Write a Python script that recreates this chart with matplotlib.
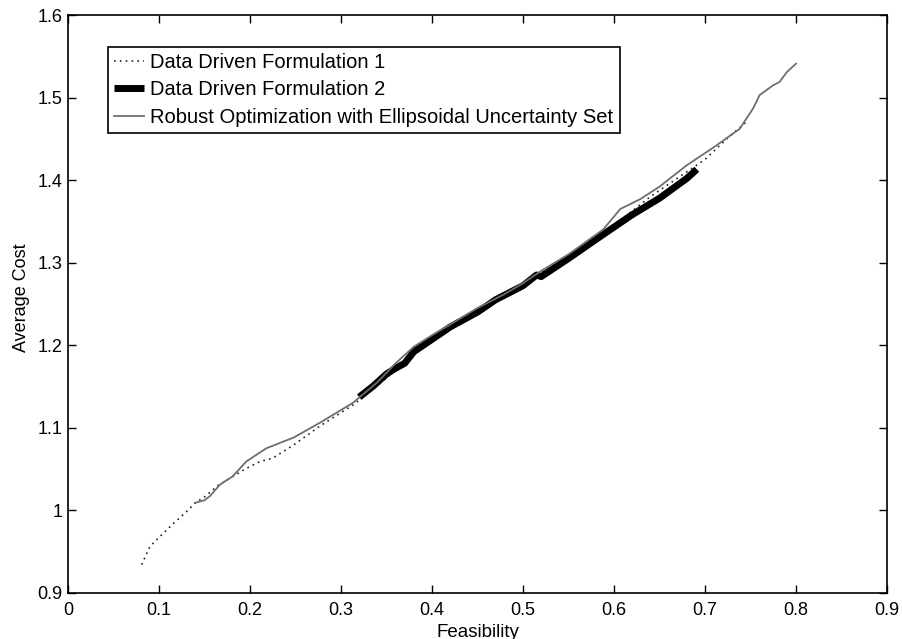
import matplotlib
matplotlib.use("Agg")
import matplotlib.pyplot as plt

plt.rcParams["font.family"] = ["Liberation Sans", "DejaVu Sans"]

# Data Driven Formulation 1 (dotted)
ddf1_x = [0.081, 0.09, 0.101, 0.116, 0.13, 0.14, 0.15, 0.165, 0.18, 0.195, 0.211, 0.225,
          0.248, 0.277, 0.314, 0.35, 0.38, 0.40, 0.43, 0.46, 0.5, 0.53, 0.56, 0.6,
          0.64, 0.68, 0.70, 0.724, 0.747]
ddf1_y = [0.934, 0.956, 0.968, 0.984, 0.998, 1.009, 1.016, 1.030, 1.040, 1.050, 1.059, 1.063,
          1.079, 1.102, 1.128, 1.160, 1.190, 1.208, 1.228, 1.250, 1.275, 1.295, 1.315, 1.345,
          1.380, 1.410, 1.425, 1.450, 1.472]

# Data Driven Formulation 2 (thick)
ddf2_x = [0.32, 0.335, 0.35, 0.36, 0.37, 0.38, 0.40, 0.42, 0.43, 0.45, 0.47, 0.50,
          0.515, 0.52, 0.55, 0.592, 0.62, 0.65, 0.68, 0.691]
ddf2_y = [1.137, 1.150, 1.165, 1.172, 1.178, 1.192, 1.207, 1.222, 1.228, 1.240, 1.255, 1.272,
          1.285, 1.283, 1.305, 1.337, 1.358, 1.378, 1.402, 1.413]

# Robust Optimization with Ellipsoidal Uncertainty Set
rob_x = [0.14, 0.15, 0.156, 0.167, 0.181, 0.196, 0.218, 0.248, 0.277, 0.313, 0.34, 0.36,
         0.38, 0.4, 0.42, 0.45, 0.48, 0.5, 0.52, 0.55, 0.588, 0.607, 0.629, 0.65,
         0.68, 0.71, 0.738, 0.753, 0.760, 0.775, 0.782, 0.790, 0.800]
rob_y = [1.009, 1.012, 1.017, 1.031, 1.041, 1.059, 1.075, 1.088, 1.106, 1.130, 1.155, 1.178,
         1.198, 1.212, 1.225, 1.245, 1.262, 1.275, 1.290, 1.310, 1.340, 1.365, 1.377, 1.392,
         1.418, 1.440, 1.462, 1.487, 1.503, 1.515, 1.519, 1.531, 1.541]

xticks = [0, 0.1, 0.2, 0.3, 0.4, 0.5, 0.6, 0.7, 0.8, 0.9]
xticklabels = ["0", "0.1", "0.2", "0.3", "0.4", "0.5", "0.6", "0.7", "0.8", "0.9"]
yticks = [0.9, 1.0, 1.1, 1.2, 1.3, 1.4, 1.5, 1.6]
yticklabels = ["0.9", "1", "1.1", "1.2", "1.3", "1.4", "1.5", "1.6"]

fig = plt.figure(figsize=(9.03, 6.39), dpi=100)
ax = fig.add_axes([0.0753, 0.0725, 0.907, 0.904])

ax.plot(ddf1_x, ddf1_y, linestyle=(0, (1, 2.5)), color="#222222", linewidth=1.2,
        label="Data Driven Formulation 1")
ax.plot(ddf2_x, ddf2_y, color="black", linewidth=5, solid_capstyle="butt",
        label="Data Driven Formulation 2")
ax.plot(rob_x, rob_y, color="#6e6e6e", linewidth=1.3,
        label="Robust Optimization with Ellipsoidal Uncertainty Set")

ax.set_xlim(0, 0.9)
ax.set_ylim(0.9, 1.6)
ax.set_xticks(xticks)
ax.set_xticklabels(xticklabels)
ax.set_yticks(yticks)
ax.set_yticklabels(yticklabels)
ax.tick_params(direction="in", top=True, right=True, length=6, width=1, labelsize=13)
ax.tick_params(axis="x", pad=7)
ax.tick_params(axis="y", pad=4)
for s in ax.spines.values():
    s.set_linewidth(1.2)

ax.set_xlabel("Feasibility", fontsize=13.5, labelpad=3)
ax.set_ylabel("Average Cost", fontsize=13, labelpad=5)
ax.yaxis.label.set_y(0.511)

leg = ax.legend(loc="upper left", bbox_to_anchor=(0.049, 0.945), fontsize=14.5,
                handlelength=1.5, handletextpad=0.3, borderpad=0.3, labelspacing=0.43,
                fancybox=False, framealpha=1, edgecolor="black", borderaxespad=0)
leg.get_frame().set_linewidth(1.2)

fig.savefig("out.png", dpi=100)
